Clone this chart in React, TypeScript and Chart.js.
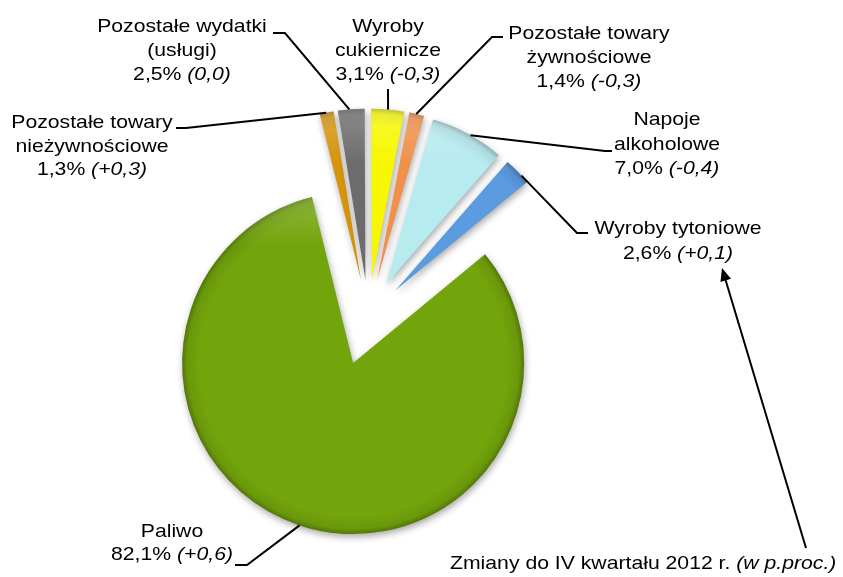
import React, { useEffect, useRef } from 'react';
import { Chart, registerables } from 'chart.js';

Chart.register(...registerables);

// ---- data ----
const categories = [
  'Pozostałe towary\nnieżywnościowe',
  'Pozostałe wydatki\n(usługi)',
  'Wyroby\ncukiernicze',
  'Pozostałe towary\nżywnościowe',
  'Napoje\nalkoholowe',
  'Wyroby tytoniowe',
  'Paliwo',
];
const shares = [1.3, 2.5, 3.1, 1.4, 7.0, 2.6, 82.1];
const changes = [0.3, 0.0, -0.3, -0.3, -0.4, 0.1, 0.6];
const footnoteText = 'Zmiany do IV kwartału 2012 r. ';
const footnoteUnit = '(w p.proc.)';

// ---- style / layout ----
const colors = ['#D4940C', '#6C6C6C', '#F7F700', '#F0904A', '#B6EBF0', '#5B9BE0', '#72A40B'];
const explode = [37, 37, 37, 37, 37, 37, 49];
const RADIUS = 171;
const FONT_PX = 18.6;
const SX = 1.14;

type LabelLayout = { cx: number; y: number; lh: number; frac: number; path: number[][] };
const labelLayout: LabelLayout[] = [
  { cx: 92, y: 128, lh: 23.5, frac: 0.47, path: [[186, 128], [176, 128]] },
  { cx: 182, y: 32, lh: 24, frac: 0.43, path: [[285, 33], [273, 33]] },
  { cx: 388, y: 32, lh: 24, frac: 0.51, path: [[388, 89]] },
  { cx: 589, y: 38.5, lh: 24, frac: 0.47, path: [[492, 37], [503, 37]] },
  { cx: 667, y: 125, lh: 24.5, frac: 0.54, path: [[605, 151], [612, 151]] },
  { cx: 678, y: 234, lh: 25, frac: 0.7, path: [[577, 233], [588, 233]] },
  { cx: 172, y: 537, lh: 23, frac: 0.5, path: [[247, 565], [235, 565]] },
];

const fmt = (v: number) => Math.abs(v).toFixed(1).replace('.', ',');
const fmtChange = (v: number) => (v > 0 ? '+' : v < 0 ? '-' : '') + fmt(v);
const font = (italic: boolean) => `${italic ? 'italic ' : ''}${FONT_PX}px "Liberation Sans", Arial, sans-serif`;

type Seg = { text: string; italic: boolean };
function drawSegs(ctx: CanvasRenderingContext2D, segs: Seg[], x0: number, y: number, align: 'center' | 'left') {
  const widths = segs.map((s) => {
    ctx.font = font(s.italic);
    return ctx.measureText(s.text).width * SX;
  });
  const total = widths.reduce((a, b) => a + b, 0);
  let x = align === 'center' ? x0 - total / 2 : x0;
  segs.forEach((s, i) => {
    ctx.font = font(s.italic);
    ctx.save();
    ctx.translate(x, y);
    ctx.scale(SX, 1);
    ctx.fillText(s.text, 0, 0);
    ctx.restore();
    x += widths[i];
  });
}

const explodePlugin = {
  id: 'explodeDraw',
  beforeDatasetDraw(chart: any, args: any) {
    const ctx: CanvasRenderingContext2D = chart.ctx;
    const meta = args.meta;
    meta.data.forEach((arc: any, i: number) => {
      const mid = (arc.startAngle + arc.endAngle) / 2;
      const d = explode[i];
      ctx.save();
      ctx.translate(Math.cos(mid) * d, Math.sin(mid) * d);
      // pass 1: base colour with soft shadow
      ctx.shadowColor = 'rgba(0,0,0,0.35)';
      ctx.shadowBlur = 7;
      ctx.shadowOffsetX = 1;
      ctx.shadowOffsetY = 3;
      arc.draw(ctx);
      ctx.shadowColor = 'rgba(0,0,0,0)';
      ctx.shadowBlur = 0;
      ctx.shadowOffsetX = 0;
      ctx.shadowOffsetY = 0;
      // pass 2: bevel rim overlay
      const orig = arc.options;
      const r = arc.outerRadius;
      const g = ctx.createRadialGradient(arc.x, arc.y, 0, arc.x, arc.y, r);
      g.addColorStop(0, 'rgba(0,0,0,0)');
      g.addColorStop(0.9, 'rgba(0,0,0,0)');
      g.addColorStop(0.97, 'rgba(0,0,0,0.08)');
      g.addColorStop(1, 'rgba(0,0,0,0.28)');
      arc.options = Object.assign({}, orig, { backgroundColor: g });
      arc.draw(ctx);
      // pass 3: light from the top
      const lg = ctx.createLinearGradient(0, arc.y - r, 0, arc.y + r);
      lg.addColorStop(0, 'rgba(255,255,255,0.22)');
      lg.addColorStop(0.16, 'rgba(255,255,255,0.0)');
      lg.addColorStop(1, 'rgba(255,255,255,0)');
      arc.options = Object.assign({}, orig, { backgroundColor: lg });
      arc.draw(ctx);
      arc.options = orig;
      ctx.restore();
    });
    return false;
  },
  afterDraw(chart: any) {
    const ctx: CanvasRenderingContext2D = chart.ctx;
    const meta = chart.getDatasetMeta(0);
    ctx.save();
    ctx.fillStyle = '#000';
    ctx.strokeStyle = '#000';
    ctx.lineWidth = 2;
    ctx.textBaseline = 'alphabetic';
    meta.data.forEach((arc: any, i: number) => {
      const L = labelLayout[i];
      const mid = (arc.startAngle + arc.endAngle) / 2;
      const d = explode[i];
      const a = arc.startAngle + (arc.endAngle - arc.startAngle) * L.frac;
      const ax = arc.x + Math.cos(mid) * d + Math.cos(a) * arc.outerRadius;
      const ay = arc.y + Math.sin(mid) * d + Math.sin(a) * arc.outerRadius;
      ctx.beginPath();
      ctx.moveTo(ax, ay);
      L.path.forEach((p) => ctx.lineTo(p[0], p[1]));
      ctx.stroke();
      const lines = categories[i].split('\n');
      lines.forEach((ln, k) => drawSegs(ctx, [{ text: ln, italic: false }], L.cx, L.y + k * L.lh, 'center'));
      drawSegs(
        ctx,
        [
          { text: fmt(shares[i]) + '% ', italic: false },
          { text: '(' + fmtChange(changes[i]) + ')', italic: true },
        ],
        L.cx,
        L.y + lines.length * L.lh,
        'center'
      );
    });
    // footnote + arrow
    drawSegs(ctx, [{ text: footnoteText, italic: false }, { text: footnoteUnit, italic: true }], 450, 569, 'left');
    const x1 = 806, y1 = 548, x2 = 722, y2 = 268;
    const ang = Math.atan2(y2 - y1, x2 - x1);
    ctx.beginPath();
    ctx.moveTo(x1, y1);
    ctx.lineTo(x2 - Math.cos(ang) * 8, y2 - Math.sin(ang) * 8);
    ctx.stroke();
    ctx.beginPath();
    ctx.moveTo(x2, y2);
    ctx.lineTo(x2 - Math.cos(ang) * 13 + Math.sin(ang) * 5.5, y2 - Math.sin(ang) * 13 - Math.cos(ang) * 5.5);
    ctx.lineTo(x2 - Math.cos(ang) * 13 - Math.sin(ang) * 5.5, y2 - Math.sin(ang) * 13 + Math.cos(ang) * 5.5);
    ctx.closePath();
    ctx.fill();
    ctx.restore();
  },
};

export default function App() {
  const ref = useRef<HTMLCanvasElement>(null);
  useEffect(() => {
    const chart = new Chart(ref.current as HTMLCanvasElement, {
      type: 'pie',
      data: {
        labels: categories.map((c) => c.replace('\n', ' ')),
        datasets: [
          {
            data: shares,
            backgroundColor: colors,
            borderWidth: 0,
            radius: RADIUS,
            rotation: -13.95,
          } as any,
        ],
      },
      options: {
        responsive: false,
        animation: false,
        devicePixelRatio: 1,
        events: [],
        layout: { padding: { left: 0, right: 106, top: 56, bottom: 0 } },
        plugins: { legend: { display: false }, tooltip: { enabled: false } },
      },
      plugins: [explodePlugin as any],
    });
    return () => chart.destroy();
  }, []);
  return (
    <div style={{ position: 'absolute', left: 0, top: 0, width: 843, height: 577, background: '#fff' }}>
      <canvas ref={ref} width={843} height={577} style={{ display: 'block' }} />
    </div>
  );
}
